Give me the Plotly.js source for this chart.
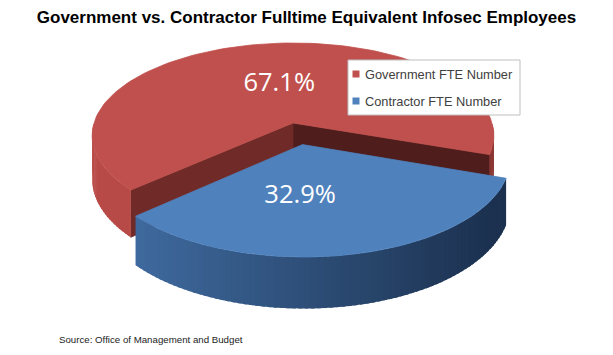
<!DOCTYPE html>
<html>
<head>
<meta charset="utf-8">
<script src="https://cdn.plot.ly/plotly-3.0.1.min.js"></script>
<style>html,body{margin:0;padding:0;background:#fff;}#chart{width:613px;height:355px;}</style>
</head>
<body>
<div id="chart"></div>
<script>
// ---- data ----
const categories = ['Government FTE Number', 'Contractor FTE Number'];
const shares = [67.1, 32.9];
const explodeBy = [0, 0.235];
const topColors = ['#C0504D', '#4F81BD'];
const titleText = 'Government vs. Contractor Fulltime Equivalent Infosec Employees';
const sourceText = 'Source: Office of Management and Budget';

// ---- 3D pie geometry (layout parameters) ----
const W = 613, Hh = 355;
const CX = 293, CY = 123, RX = 199, RY = 90.8, K = 0.135, DEPTH = 43, START = -19.4;
const labelR = [0.45, 0.5], labelShift = [-2, -13];
const rad = d => d * Math.PI / 180;
function proj(X, Z, bottom) {
  const s = 1 / (1 - K * Z);
  return [CX + RX * X * s, CY + RY * Z * s + (bottom ? DEPTH * s : 0)];
}
function pt(phi, r, off, bottom) {
  const X = r * Math.cos(rad(phi)) + off[0];
  const Z = -r * Math.sin(rad(phi)) + off[1];
  return proj(X, Z, bottom);
}
function hex(c){return [parseInt(c.slice(1,3),16),parseInt(c.slice(3,5),16),parseInt(c.slice(5,7),16)];}
function mix(a,b,t){const A=hex(a),B=hex(b);return 'rgb('+A.map((v,i)=>Math.round(v+(B[i]-v)*t)).join(',')+')';}
function grad(stops,t){
  for(let i=0;i<stops.length-1;i++){ if(t<=stops[i+1][0]){const u=Math.max(0,(t-stops[i][0])/(stops[i+1][0]-stops[i][0]));return mix(stops[i][1],stops[i+1][1],u);} }
  const l=stops[stops.length-1][1]; return mix(l,l,0);
}

const total = shares.reduce((a,b)=>a+b,0);
const slices = [];
let a0 = START;
shares.forEach((v,i)=>{
  const span = v/total*360;
  const mid = a0 + span/2;
  const e = explodeBy[i];
  const off = [e*Math.cos(rad(mid)), -e*Math.sin(rad(mid))];
  slices.push({a1:a0, a2:a0+span, mid, off, i});
  a0 += span;
});

const traces = [];
function poly(pts, color, lw) {
  traces.push({type:'scatter', mode:'lines', x:pts.map(p=>p[0]).concat([pts[0][0]]), y:pts.map(p=>p[1]).concat([pts[0][1]]),
    fill:'toself', fillcolor:color, line:{color:color, width:lw===undefined?0.8:lw}, hoverinfo:'skip', showlegend:false});
}
function arcPts(s, from, to, bottom, n) {
  const out=[]; for(let k=0;k<=n;k++){const p=from+(to-from)*k/n; out.push(pt(p,1,s.off,bottom));} return out;
}
function outerWall(s, stops) {
  const ranges = [];
  for (const shift of [-360, 0, 360]) {
    const lo = Math.max(s.a1 + shift, 180), hi = Math.min(s.a2 + shift, 360);
    if (hi > lo) ranges.push([lo, hi]);
  }
  ranges.forEach(([lo,hi])=>{
    const n = Math.max(2, Math.ceil((hi-lo)/1.5));
    const step = (hi-lo)/n;
    for(let k=0;k<n;k++){
      const p1=lo+step*k, p2=Math.min(hi, lo+step*(k+1)+step*0.6);
      const xm = pt((p1+p2)/2,1,s.off,false)[0];
      const t = Math.min(1,Math.max(0,(xm-(CX-RX))/(2*RX)));
      const top = arcPts(s,p1,p2,false,3), bot = arcPts(s,p2,p1,true,3);
      poly(top.concat(bot), grad(stops,t), 0);
    }
  });
}
function radialFace(s, phi, color) {
  poly([pt(phi,0,s.off,false),pt(phi,1,s.off,false),pt(phi,1,s.off,true),pt(phi,0,s.off,true)], color);
}
function topFace(s, color) {
  const n = Math.ceil((s.a2-s.a1)/2);
  poly([pt(0,0,s.off,false)].concat(arcPts(s,s.a1,s.a2,false,n)), color);
}

const g = slices[0], c = slices[1];
radialFace(g, g.a1, '#4F1D1C');
radialFace(g, g.a2, '#702B29');
outerWall(g, [[0,'#B84A47'],[0.6,'#AE4542'],[1,'#8A3431']]);
topFace(g, topColors[0]);
outerWall(c, [[0,'#4370A8'],[0.5,'#2F517B'],[1,'#1C3150']]);
topFace(c, topColors[1]);

// percentage labels
slices.forEach((s,i)=>{
  const p = pt(s.mid + labelShift[i], labelR[i], s.off, false);
  traces.push({type:'scatter', mode:'text', x:[p[0]], y:[p[1]], text:[(shares[i]/total*100).toFixed(1)+'%'],
    textfont:{family:'Open Sans, Liberation Sans, sans-serif', size:25.5, color:'#FFFFFF'}, hoverinfo:'skip', showlegend:false});
});

// legend (drawn manually to match the boxed Excel-style legend)
const LEG = {x0:348, y0:60, x1:520, y1:115, row0:74, rowGap:27, mx:356, tx:363};
const shapes = [{type:'rect', xref:'x', yref:'y', x0:LEG.x0, x1:LEG.x1, y0:LEG.y0, y1:LEG.y1,
  line:{color:'#BFBFBF', width:1}, fillcolor:'#FFFFFF', layer:'above'}];
const annotations = [];
categories.forEach((name,i)=>{
  const yy = LEG.row0 + i*LEG.rowGap;
  shapes.push({type:'rect', xref:'x', yref:'y', x0:LEG.mx-3.5, x1:LEG.mx+3.5, y0:yy-3.5, y1:yy+3.5,
    line:{width:0}, fillcolor:topColors[i], layer:'above'});
  annotations.push({text:name, xref:'x', yref:'y', x:LEG.tx, y:yy, xanchor:'left', yanchor:'middle', showarrow:false,
    font:{family:'Liberation Sans, Arial, sans-serif', size:12.8, color:'#404040'}});
});
annotations.push({text:sourceText, xref:'paper', yref:'paper', x:57/W, y:1-339/Hh, xanchor:'left', yanchor:'middle',
  showarrow:false, font:{family:'Liberation Sans, Arial, sans-serif', size:9.7, color:'#222222'}});

const layout = {
  width: W, height: Hh,
  margin:{l:0,r:0,t:0,b:0},
  paper_bgcolor:'#FFFFFF', plot_bgcolor:'#FFFFFF',
  xaxis:{range:[0,W], visible:false, fixedrange:true},
  yaxis:{range:[Hh,0], visible:false, fixedrange:true},
  title:{text:titleText, x:0.5, xanchor:'center', y:1-17/Hh, yanchor:'middle',
    font:{family:'Liberation Sans, Arial, sans-serif', size:17, weight:700, color:'#000000'}},
  showlegend:false,
  shapes, annotations
};
Plotly.newPlot('chart', traces, layout, {staticPlot:true, displayModeBar:false});
</script>
</body>
</html>
